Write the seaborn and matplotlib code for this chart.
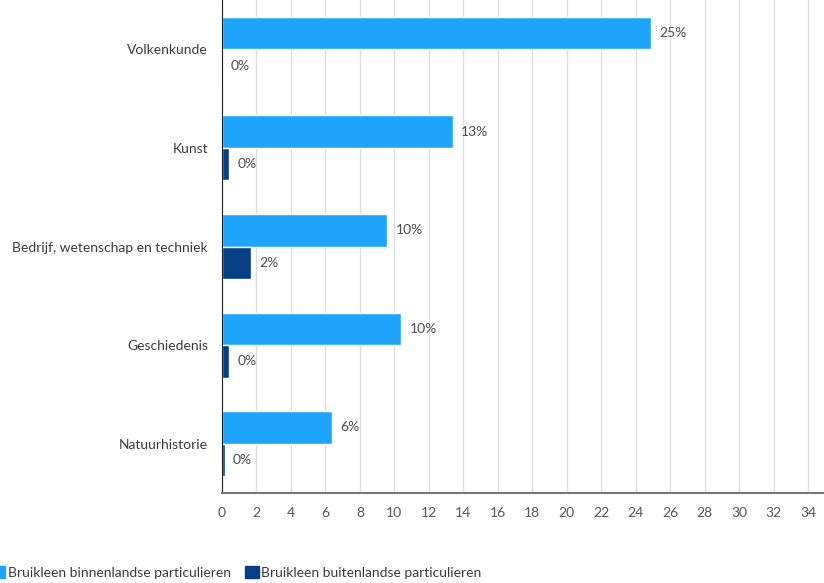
import numpy as np
import pandas as pd
import matplotlib.pyplot as plt
import seaborn as sns

categories = ['Volkenkunde', 'Kunst', 'Bedrijf, wetenschap en techniek',
              'Geschiedenis', 'Natuurhistorie']
binnenland = [24.9, 13.4, 9.6, 10.4, 6.4]
buitenland = [0.0, 0.4, 1.7, 0.4, 0.15]
series = ['Bruikleen binnenlandse particulieren',
          'Bruikleen buitenlandse particulieren']
colors = ['#1ea5fb', '#063f84']
xticks = list(range(0, 35, 2))

df = pd.DataFrame({
    'cat': categories * 2,
    'val': binnenland + buitenland,
    'serie': [series[0]] * len(categories) + [series[1]] * len(categories),
})

sns.set_style('white')
plt.rcParams['font.family'] = ['Lato', 'DejaVu Sans']

fig = plt.figure(figsize=(8.24, 5.83), dpi=100)
ax = fig.add_axes([222 / 824, 90 / 583, 602 / 824, 493 / 583])

sns.barplot(data=df, y='cat', x='val', hue='serie', order=categories,
            hue_order=series, palette=colors, width=0.66, gap=0,
            saturation=1, orient='h', ax=ax, legend=False)

ax.set_xlim(0, 34.93)
ax.set_ylim(4.5, -0.5)
ax.set_xticks(xticks)
ax.set_xticklabels([str(t) for t in xticks], fontsize=10, color='#555555')
ax.tick_params(axis='x', length=4, color='#999999', pad=6)
ax.tick_params(axis='y', length=0, pad=10, labelsize=10, labelcolor='#3a3a3a')
ax.set_xlabel('')
ax.set_ylabel('')
ax.grid(axis='x', color='#dddddd', linewidth=1)
ax.set_axisbelow(True)
for s in ['top', 'right']:
    ax.spines[s].set_visible(False)
ax.spines['left'].set_color('#222222')
ax.spines['bottom'].set_color('#777777')
ax.spines['bottom'].set_linewidth(1.5)

for cont in ax.containers:
    ax.bar_label(cont, labels=[f'{v:.0f}%' for v in cont.datavalues],
                 padding=6, fontsize=10, color='#4a4a4a')

handles = [plt.Rectangle((0, 0), 1, 1, color=c) for c in colors]
fig.legend(handles, series, loc='center left', bbox_to_anchor=(-0.026, 0.018),
           ncol=2, frameon=False, fontsize=10, handlelength=1.0,
           handleheight=1.0, handletextpad=0.2, columnspacing=1.0,
           labelcolor='#3a3a3a')

fig.savefig('out.png', dpi=100)
